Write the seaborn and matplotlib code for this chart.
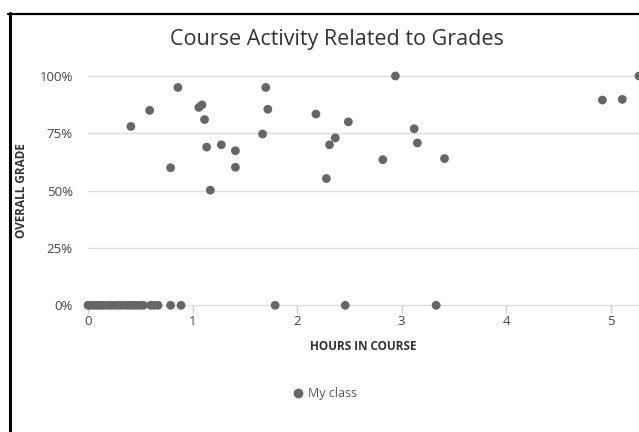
import pandas as pd
import seaborn as sns
import matplotlib.pyplot as plt
from matplotlib.lines import Line2D

# ---------- data ----------
hours = [
    0.86, 0.59, 0.41, 0.79, 1.06, 1.09, 1.115, 1.135, 1.275, 1.41, 1.41, 1.17,
    1.70, 1.72, 1.67, 2.18, 2.94, 5.27, 4.92, 5.11, 2.49, 2.365, 2.31, 2.28,
    2.82, 3.12, 3.15, 3.41,
    # students with a 0% grade
    0.0, 0.02, 0.05, 0.08, 0.10, 0.13, 0.16, 0.20, 0.23, 0.27, 0.30, 0.33, 0.37,
    0.40, 0.43, 0.46, 0.50, 0.53, 0.60, 0.63, 0.67, 0.79, 0.89, 1.79, 2.46, 3.33,
]
grades = [
    0.95, 0.85, 0.78, 0.60, 0.863, 0.874, 0.81, 0.69, 0.70, 0.674, 0.602, 0.502,
    0.95, 0.855, 0.747, 0.834, 1.00, 1.00, 0.895, 0.898, 0.80, 0.73, 0.70, 0.553,
    0.635, 0.77, 0.708, 0.64,
    0, 0, 0, 0, 0, 0, 0, 0, 0, 0, 0, 0, 0,
    0, 0, 0, 0, 0, 0, 0, 0, 0, 0, 0, 0, 0,
]
series = ['My class'] * len(hours)
x_ticks = [0, 1, 2, 3, 4, 5]
y_ticks = [0, 0.25, 0.5, 0.75, 1.0]
y_labels = ['0%', '25%', '50%', '75%', '100%']

df = pd.DataFrame({'Hours': hours, 'Grade': grades, 'Series': series})

sns.set_theme(style="white")
plt.rcParams['font.family'] = ['Open Sans', 'DejaVu Sans']

fig = plt.figure(figsize=(6.39, 4.32), dpi=100)
ax = fig.add_axes([88 / 639, 126.7 / 432, 551 / 639, 229.3 / 432])

sns.scatterplot(
    data=df, x='Hours', y='Grade', hue='Series', palette=['#666666'],
    s=40, edgecolor='none', ax=ax, legend=False, clip_on=False, zorder=3
)

ax.set_xlim(0, 5.27)
ax.set_ylim(0, 1.0)
for s in ax.spines.values():
    s.set_visible(False)

# horizontal gridlines
for yv in y_ticks:
    ax.axhline(yv, color='#dddddd', lw=1, zorder=1, clip_on=False)

ax.set_xticks(x_ticks)
ax.set_xticklabels([str(t) for t in x_ticks], fontsize=9.5, color='#444444')
ax.set_yticks(y_ticks)
ax.set_yticklabels(y_labels, fontsize=9.5, color='#444444')
ax.tick_params(axis='x', length=6, width=1, color='#cccccc', pad=1, bottom=True)
ax.tick_params(axis='y', length=0, pad=11)

ax.set_xlabel('HOURS IN COURSE', fontsize=8.5, fontweight='bold', color='#333333')
ax.set_ylabel('OVERALL GRADE', fontsize=8.5, fontweight='bold', color='#333333')
ax.xaxis.set_label_coords(0.5, ((432 - 347) - 126.7) / 229.3)
ax.yaxis.set_label_coords((22 - 88) / 551, 0.5)
ax.xaxis.label.set_va('center')
ax.yaxis.label.set_va('center')

fig.text(337 / 639, 1 - 40 / 432, 'Course Activity Related to Grades',
         ha='center', va='center', fontsize=15.5, color='#333333')

handle = Line2D([], [], marker='o', linestyle='none', color='#666666', markersize=6)
fig.legend([handle], ['My class'], loc='center', bbox_to_anchor=(323 / 639, 1 - 394 / 432),
           frameon=False, fontsize=9, labelcolor='#555555', handletextpad=0.1,
           handlelength=1.5)

# black frame lines at top and left of the screenshot
fig.add_artist(Line2D([9.5 / 639, 9.5 / 639], [0, 1 - 13 / 432], color='black', lw=2.2))
fig.add_artist(Line2D([8 / 639, 1], [1 - 14 / 432, 1 - 14 / 432], color='black', lw=1.6))

fig.savefig('out.png', dpi=100)
